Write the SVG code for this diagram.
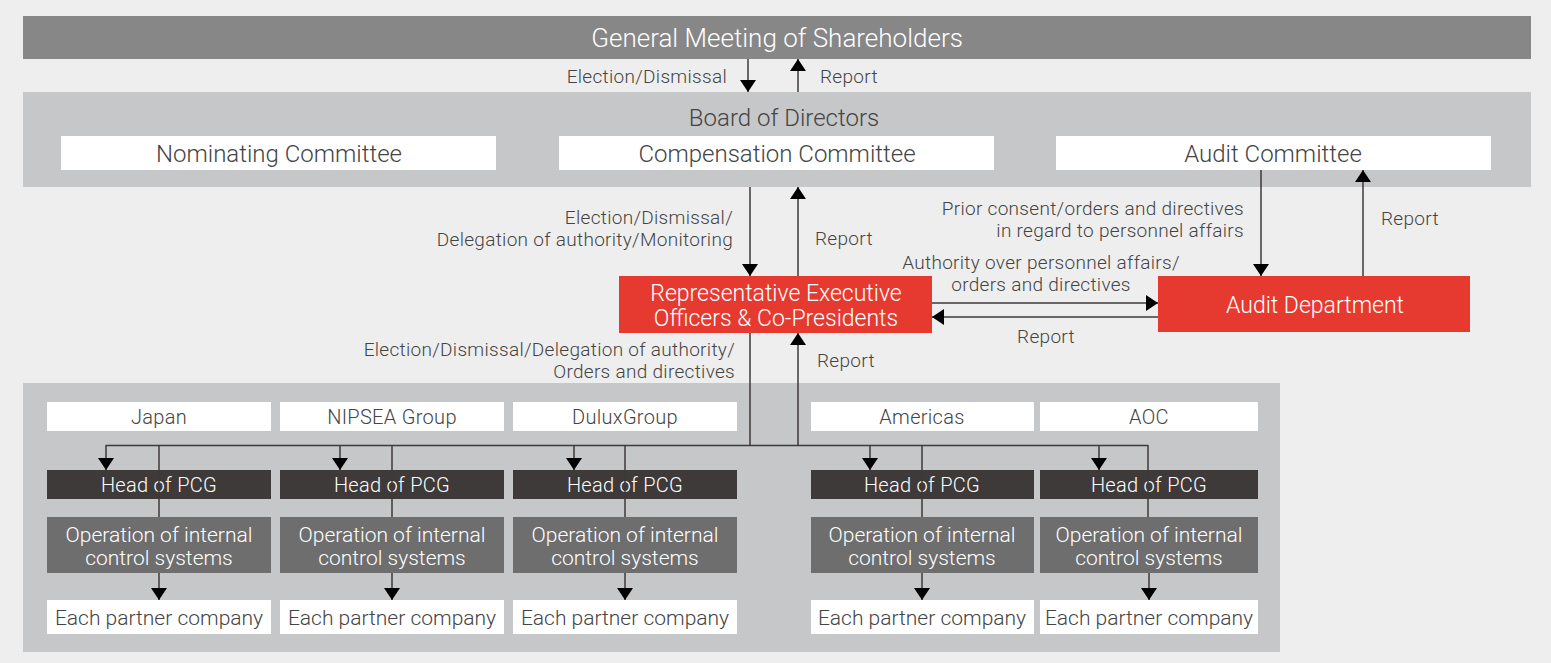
<svg xmlns="http://www.w3.org/2000/svg" width="1551" height="663" viewBox="0 0 1551 663">
<style>
text{font-family:Roboto,"Liberation Sans",sans-serif;font-weight:300;fill:#444444}
.lbl{font-size:19px;letter-spacing:0.3px}
.big{font-size:24px}
.rt{font-size:23px}
.sm{font-size:21px}
.hd{font-size:20px;letter-spacing:0.3px}
.w{fill:#ffffff}
.c{text-anchor:middle}
.r{text-anchor:end}
.box{fill:#ffffff}
.head{fill:#3e3a39}
.op{fill:#6e6e6e}
.red{fill:#e63a30}
.ln{stroke:#3e3a39;stroke-width:1.5;fill:none}
.ar{stroke:#3e3a39;stroke-width:1.5;fill:none;marker-end:url(#ah)}
</style>
<defs>
<marker id="ah" markerUnits="userSpaceOnUse" markerWidth="13" markerHeight="17" refX="12" refY="8" orient="auto" viewBox="0 0 13 17">
<path d="M0,0 L12,8 L0,16 z" fill="#000000"/>
</marker>
</defs>
<rect x="0" y="0" width="1551" height="663" fill="#eeeeee"/>

<g id="shareholders">
<rect x="23" y="16" width="1508" height="43" fill="#878787"/>
<text x="777" y="47" class="c w" style="font-size:26px">General Meeting of Shareholders</text>
</g>

<g id="board">
<rect x="23" y="92" width="1508" height="95" fill="#c6c7c8"/>
<text x="784" y="125.5" class="c big">Board of Directors</text>
</g>
<g id="nominating">
<rect x="61" y="136" width="435" height="34" class="box"/>
<text x="279" y="161.5" class="c big">Nominating Committee</text>
</g>
<g id="compensation">
<rect x="559" y="136" width="435" height="34" class="box"/>
<text x="777" y="161.5" class="c big">Compensation Committee</text>
</g>
<g id="audit-committee">
<rect x="1056" y="136" width="435" height="34" class="box"/>
<text x="1273" y="161.5" class="c big">Audit Committee</text>
</g>

<g id="rep-officers">
<rect x="619" y="276" width="313" height="57" class="red"/>
<text x="776" y="301" class="c w rt">Representative Executive</text>
<text x="776" y="326" class="c w rt">Officers &amp; Co-Presidents</text>
</g>
<g id="audit-dept">
<rect x="1158" y="276" width="312" height="56" class="red"/>
<text x="1315" y="313" class="c w rt">Audit Department</text>
</g>

<g id="group-area">
<rect x="23" y="383" width="1257" height="269" fill="#c6c7c8"/>
</g>

<g id="col-japan">
<rect x="47" y="402" width="224" height="29" class="box"/>
<text x="159" y="423.5" class="c hd">Japan</text>
<rect x="47" y="470" width="224" height="29" class="head"/>
<text x="159" y="492" class="c w hd">Head of PCG</text>
<rect x="47" y="517" width="224" height="56" class="op"/>
<text x="159" y="541.5" class="c w sm">Operation of internal</text>
<text x="159" y="564.5" class="c w sm">control systems</text>
<rect x="47" y="600" width="224" height="34" class="box"/>
<text x="159" y="624.5" class="c sm">Each partner company</text>
</g>
<g id="col-nipsea">
<rect x="280" y="402" width="224" height="29" class="box"/>
<text x="392" y="423.5" class="c hd">NIPSEA Group</text>
<rect x="280" y="470" width="224" height="29" class="head"/>
<text x="392" y="492" class="c w hd">Head of PCG</text>
<rect x="280" y="517" width="224" height="56" class="op"/>
<text x="392" y="541.5" class="c w sm">Operation of internal</text>
<text x="392" y="564.5" class="c w sm">control systems</text>
<rect x="280" y="600" width="224" height="34" class="box"/>
<text x="392" y="624.5" class="c sm">Each partner company</text>
</g>
<g id="col-dulux">
<rect x="513" y="402" width="224" height="29" class="box"/>
<text x="625" y="423.5" class="c hd">DuluxGroup</text>
<rect x="513" y="470" width="224" height="29" class="head"/>
<text x="625" y="492" class="c w hd">Head of PCG</text>
<rect x="513" y="517" width="224" height="56" class="op"/>
<text x="625" y="541.5" class="c w sm">Operation of internal</text>
<text x="625" y="564.5" class="c w sm">control systems</text>
<rect x="513" y="600" width="224" height="34" class="box"/>
<text x="625" y="624.5" class="c sm">Each partner company</text>
</g>
<g id="col-americas">
<rect x="811" y="402" width="223" height="29" class="box"/>
<text x="922" y="423.5" class="c hd">Americas</text>
<rect x="811" y="470" width="223" height="29" class="head"/>
<text x="922" y="492" class="c w hd">Head of PCG</text>
<rect x="811" y="517" width="223" height="56" class="op"/>
<text x="922" y="541.5" class="c w sm">Operation of internal</text>
<text x="922" y="564.5" class="c w sm">control systems</text>
<rect x="811" y="600" width="223" height="34" class="box"/>
<text x="922" y="624.5" class="c sm">Each partner company</text>
</g>
<g id="col-aoc">
<rect x="1040" y="402" width="218" height="29" class="box"/>
<text x="1149" y="423.5" class="c hd">AOC</text>
<rect x="1040" y="470" width="218" height="29" class="head"/>
<text x="1149" y="492" class="c w hd">Head of PCG</text>
<rect x="1040" y="517" width="218" height="56" class="op"/>
<text x="1149" y="541.5" class="c w sm">Operation of internal</text>
<text x="1149" y="564.5" class="c w sm">control systems</text>
<rect x="1040" y="600" width="218" height="34" class="box"/>
<text x="1149" y="624.5" class="c sm">Each partner company</text>
</g>

<g id="connectors">
<line x1="748" y1="59" x2="748" y2="92" class="ar"/>
<line x1="798" y1="92" x2="798" y2="59" class="ar"/>
<line x1="750" y1="187" x2="750" y2="276" class="ar"/>
<line x1="798" y1="276" x2="798" y2="187" class="ar"/>
<line x1="1261" y1="170" x2="1261" y2="276" class="ar"/>
<line x1="1363" y1="276" x2="1363" y2="170" class="ar"/>
<line x1="932" y1="303" x2="1158" y2="303" class="ar"/>
<line x1="1158" y1="317" x2="932" y2="317" class="ar"/>
<line x1="750" y1="333" x2="750" y2="445.5" class="ln"/>
<line x1="798" y1="445.5" x2="798" y2="333" class="ar"/>
<line x1="106" y1="445.5" x2="1148" y2="445.5" class="ln"/>
<line x1="106" y1="445" x2="106" y2="470" class="ar"/>
<line x1="340" y1="445" x2="340" y2="470" class="ar"/>
<line x1="574" y1="445" x2="574" y2="470" class="ar"/>
<line x1="870" y1="445" x2="870" y2="470" class="ar"/>
<line x1="1099" y1="445" x2="1099" y2="470" class="ar"/>
<line x1="159" y1="445" x2="159" y2="517" class="ln"/>
<line x1="392" y1="445" x2="392" y2="517" class="ln"/>
<line x1="625" y1="445" x2="625" y2="517" class="ln"/>
<line x1="922" y1="445" x2="922" y2="517" class="ln"/>
<line x1="1148" y1="445" x2="1148" y2="517" class="ln"/>
<line x1="159" y1="573" x2="159" y2="600" class="ar"/>
<line x1="392" y1="573" x2="392" y2="600" class="ar"/>
<line x1="625" y1="573" x2="625" y2="600" class="ar"/>
<line x1="922" y1="573" x2="922" y2="600" class="ar"/>
<line x1="1149" y1="573" x2="1149" y2="600" class="ar"/>
</g>

<g id="labels">
<text x="727" y="83" class="lbl r">Election/Dismissal</text>
<text x="820" y="83" class="lbl">Report</text>
<text x="733" y="224" class="lbl r">Election/Dismissal/</text>
<text x="733" y="246" class="lbl r">Delegation of authority/Monitoring</text>
<text x="815" y="245" class="lbl">Report</text>
<text x="1244" y="215" class="lbl r">Prior consent/orders and directives</text>
<text x="1244" y="237" class="lbl r">in regard to personnel affairs</text>
<text x="1381" y="225" class="lbl">Report</text>
<text x="1041" y="269" class="lbl c">Authority over personnel affairs/</text>
<text x="1041" y="291" class="lbl c">orders and directives</text>
<text x="1046" y="343" class="lbl c">Report</text>
<text x="735" y="356" class="lbl r">Election/Dismissal/Delegation of authority/</text>
<text x="735" y="378" class="lbl r">Orders and directives</text>
<text x="817" y="367" class="lbl">Report</text>
</g>
</svg>
